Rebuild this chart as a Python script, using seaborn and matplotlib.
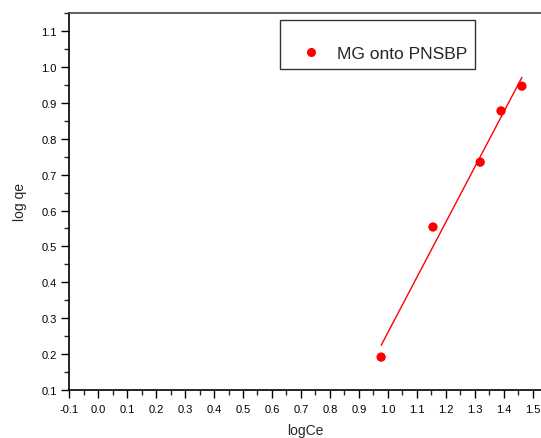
import matplotlib
matplotlib.use("Agg")
import matplotlib.pyplot as plt
from matplotlib.ticker import MultipleLocator
from matplotlib.lines import Line2D
import numpy as np
import pandas as pd
import seaborn as sns

# Freundlich isotherm data (log-log)
log_ce = [0.977, 1.156, 1.319, 1.391, 1.463]
log_qe = [0.191, 0.554, 0.735, 0.878, 0.947]
series_label = "MG onto PNSBP"

df = pd.DataFrame({"logCe": log_ce, "log qe": log_qe})

sns.set_style("white")
plt.rcParams["font.family"] = ["Liberation Sans", "DejaVu Sans"]

fig = plt.figure(figsize=(5.41, 4.39), dpi=100)
ax = fig.add_axes([0.128, 0.110, 0.872, 0.858])

red = "#ff0000"
sns.regplot(data=df, x="logCe", y="log qe", ax=ax, ci=None, color=red,
            scatter_kws={"s": 45, "edgecolor": "none", "alpha": 1},
            line_kws={"lw": 1.0})

ax.set_xlim(-0.1, 1.529)
ax.set_ylim(0.1, 1.151)
ax.xaxis.set_minor_locator(MultipleLocator(0.05))
ax.yaxis.set_minor_locator(MultipleLocator(0.05))
xt = np.round(np.arange(-0.1, 1.51, 0.1), 1)
yt = np.round(np.arange(0.1, 1.11, 0.1), 1)
ax.set_xticks(xt)
ax.set_xticklabels([f"{v:.1f}" for v in xt])
ax.set_yticks(yt)
ax.set_yticklabels([f"{v:.1f}" for v in yt])

ax.tick_params(axis="both", which="major", direction="out", length=6, width=1,
               labelsize=8, colors="black", left=True, bottom=True, pad=3)
ax.tick_params(axis="x", which="major", pad=4)
ax.tick_params(axis="both", which="minor", direction="out", length=3.5, width=1,
               left=True, bottom=True)

for side in ("left", "bottom"):
    ax.spines[side].set_color("black")
    ax.spines[side].set_linewidth(1.2)
ax.spines["top"].set_color("#444444")
ax.spines["top"].set_linewidth(1.2)
ax.spines["right"].set_visible(False)

ax.set_xlabel("logCe", fontsize=10, labelpad=7)
ax.set_ylabel("log qe", fontsize=10, labelpad=10)

handle = Line2D([], [], marker="o", color=red, linestyle="none", markersize=5.5)
leg = ax.legend([handle], [series_label], loc="upper left",
                bbox_to_anchor=(0.447, 0.982), frameon=True, fancybox=False,
                title=" ", title_fontsize=8,
                fontsize=12.5, borderpad=0.45, handletextpad=0.2,
                handlelength=2.6, borderaxespad=0)
leg.get_frame().set_edgecolor("black")
leg.get_frame().set_linewidth(1.0)

fig.savefig("out.png", dpi=100)
